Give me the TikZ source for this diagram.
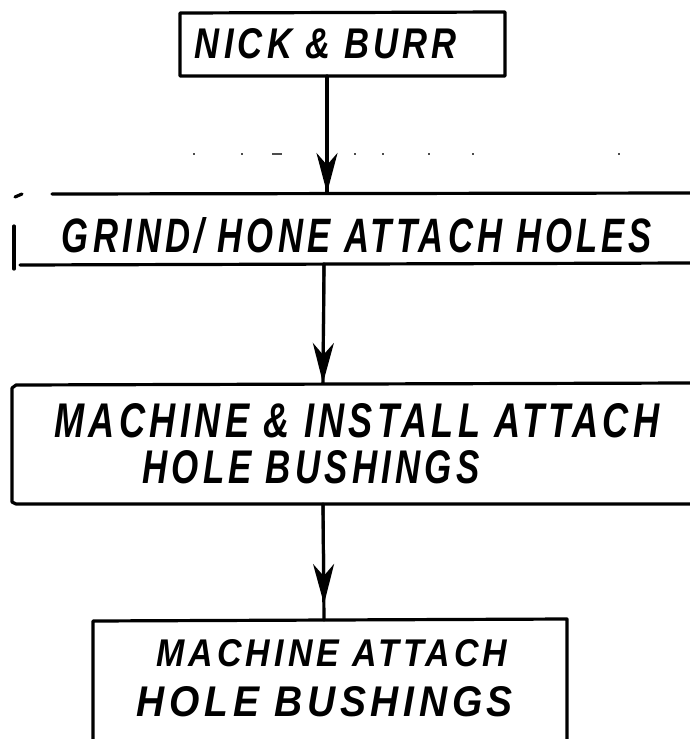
\documentclass[tikz,border=0pt]{standalone}
\usepackage{fontspec}
\setmainfont{Liberation Sans}
\usepackage{graphicx}
\usetikzlibrary{arrows.meta,calc}
% hand-lettered caption: loosely spaced marker capitals, stretched to a given width and cap height
\newcommand{\hand}[3]{\resizebox{#1pt}{#2pt}{\bfseries\itshape\addfontfeatures{LetterSpace=12}#3}}
\tikzset{
  ink/.style={line width=3.2pt, line cap=round, line join=round},
  flowline/.style={ink},
  flowhead/.style={line width=3pt, -{Stealth[length=40pt,width=21pt,inset=12pt]}},
  caption/.style={inner sep=0pt, anchor=center},
  speck/.style={fill=black!70}
}
\begin{document}
\begin{tikzpicture}[x=1pt, y=-1pt]
\useasboundingbox (0,0) rectangle (690,739);

% --- box 1: NICK & BURR
\draw[ink] (180,13) -- (505,12) -- (505,76) -- (180,76) -- cycle;
\node[caption] (t1) at (326,44) {\hand{262}{30}{NICK \& BURR}};
\coordinate (b1s) at (327,76);

% faint specks between the first two steps
\foreach \sx/\sw in {193/2, 241/2, 272/10, 354/2, 382/2, 428/1.5, 472/2, 618/1.5}
  \fill[speck] (\sx,153) rectangle ++(\sw,2);

% --- box 2: GRIND/HONE (open to the right)
\draw[ink] (15,197) -- (22,194);
\draw[ink] (52,194) -- (690,193);
\draw[ink] (14,226) -- (14,269);
\draw[ink] (20,265) -- (690,263);
\node[caption] (t2) at (357,235) {\hand{590}{35}{GRIND/ HONE ATTACH HOLES}};
\coordinate (b2n) at (327,193);
\coordinate (b2s) at (324,264);

% --- box 3: MACHINE & INSTALL (open to the right)
\draw[ink] (690,383) -- (16,385) -- (12,388) -- (12,502) -- (16,504) -- (690,504);
\node[caption] (t3a) at (357,421) {\hand{605}{34}{MACHINE \& INSTALL ATTACH}};
\node[caption] (t3b) at (311,467) {\hand{337}{33}{HOLE BUSHINGS}};
\coordinate (b3n) at (323,383);
\coordinate (b3s) at (323,504);

% --- box 4: MACHINE ATTACH (runs off the bottom)
\draw[ink] (93,739) -- (93,621) -- (567,619) -- (567,739);
\node[caption] (t4a) at (332,653) {\hand{351}{27}{MACHINE ATTACH}};
\node[caption] (t4b) at (325,702) {\hand{376}{30}{HOLE BUSHINGS}};
\coordinate (b4n) at (324,620);

% --- connectors
\draw[flowline] (b1s) -- (b2n);
\draw[flowhead] (b1s) -- (b2n);
\draw[flowline] (b2s) -- (b3n);
\draw[flowhead] (b2s) -- (b3n);
\draw[flowline] (b3s) -- (b4n);
\draw[flowhead] (b3s) -- ($(b4n)+(0,-16)$);
\end{tikzpicture}
\end{document}
